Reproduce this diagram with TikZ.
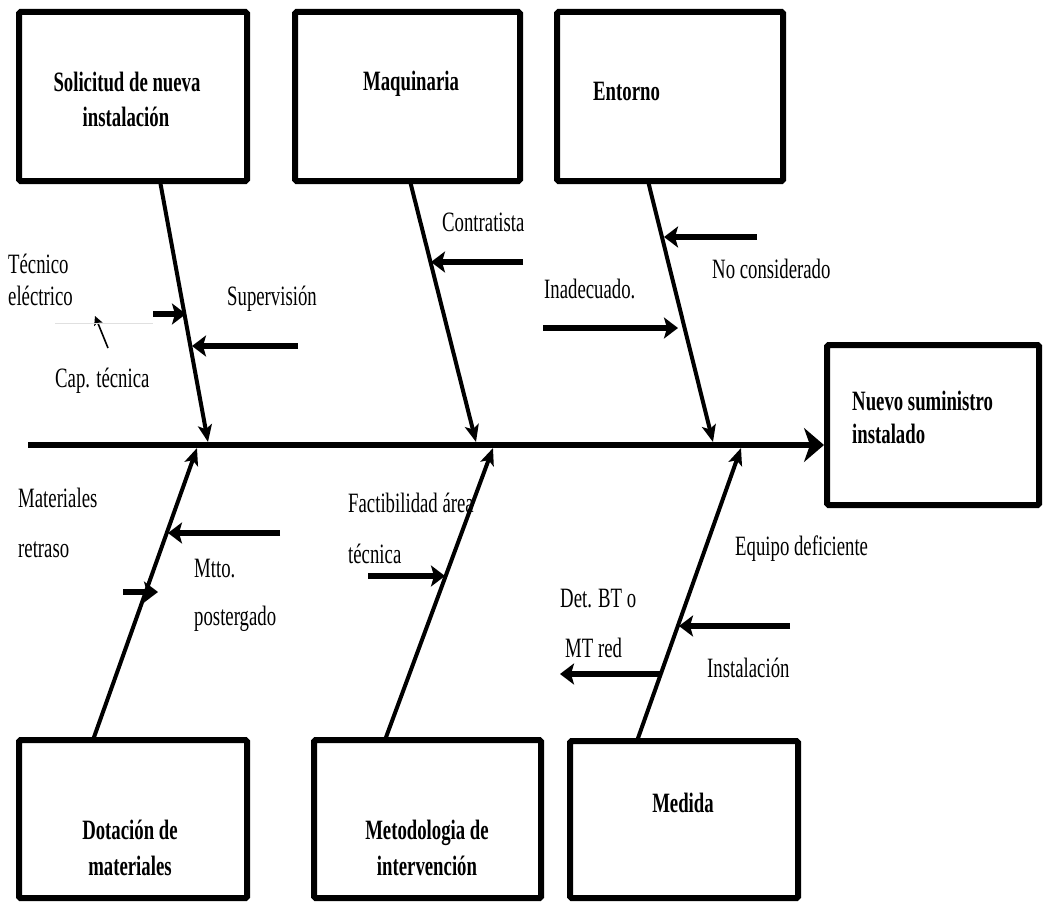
\documentclass[tikz,border=0pt]{standalone}
\usepackage{fontspec}
\setmainfont{Liberation Serif}[FakeStretch=0.67]
\usetikzlibrary{arrows.meta}

\begin{document}
\begin{tikzpicture}[x=1pt,y=-1pt,
  box/.style={draw, line width=6pt, rounded corners=1.5pt, inner sep=0pt},
  spine/.style={line width=6pt, -{Stealth[length=20pt,width=34pt,inset=6pt]}},
  bone/.style={line width=4pt, -{Stealth[length=17pt,width=14pt,inset=4pt]}},
  cause/.style={line width=6pt, -{Stealth[length=14pt,width=21pt,inset=3pt]}},
  thinarrow/.style={line width=1.6pt, -{Stealth[length=9pt,width=9pt,inset=2pt]}},
  lbl/.style={anchor=base west, inner sep=0pt, font=\fontsize{28}{32}\selectfont},
  ttl/.style={anchor=base, inner sep=0pt, font=\fontsize{28}{32}\selectfont\bfseries},
  ttlw/.style={anchor=base west, inner sep=0pt, font=\fontsize{28}{32}\selectfont\bfseries}]

\useasboundingbox (0,0) rectangle (1047,907);

% cause boxes
\node[box, minimum width=228pt, minimum height=169pt] (b1) at (133,96.5) {};
\node[box, minimum width=225pt, minimum height=169pt] (b2) at (407.5,96.5) {};
\node[box, minimum width=226pt, minimum height=169pt] (b3) at (670,96.5) {};
\node[box, minimum width=228pt, minimum height=158pt] (b4) at (133,819) {};
\node[box, minimum width=227pt, minimum height=158pt] (b5) at (427.5,819) {};
\node[box, minimum width=228pt, minimum height=157pt] (b6) at (684,819.5) {};
% effect box
\node[box, minimum width=212pt, minimum height=160pt] (out) at (933,425) {};

% box titles
\node[ttl] (t1a) at (127,92) {Solicitud de nueva};
\node[ttl] (t1b) at (126,126) {instalación};
\node[ttl] (t2) at (411,90) {Maquinaria};
\node[ttlw] (t3) at (593,100) {Entorno};
\node[ttlw] (t7a) at (852,410) {Nuevo suministro};
\node[ttlw] (t7b) at (852,443) {instalado};
\node[ttl] (t4a) at (130,839) {Dotación de};
\node[ttl] (t4b) at (130,875) {materiales};
\node[ttl] (t5a) at (427,839) {Metodologia de};
\node[ttl] (t5b) at (427,875) {intervención};
\node[ttl] (t6) at (683,812) {Medida};

% spine
\coordinate (tail) at (28,445);
\draw[spine] (tail) -- (tail -| out.west);

% bones: box to spine
\coordinate (s1) at (160,181);  \coordinate (j1) at (208,442);
\coordinate (s2) at (410,181);  \coordinate (j2) at (476,442);
\coordinate (s3) at (648,181);  \coordinate (j3) at (713,442);
\coordinate (s4) at (93,740);   \coordinate (j4) at (197,448);
\coordinate (s5) at (385,740);  \coordinate (j5) at (493,448);
\coordinate (s6) at (637,741);  \coordinate (j6) at (741,448);
\draw[bone] (s1) -- (j1);
\draw[bone] (s2) -- (j2);
\draw[bone] (s3) -- (j3);
\draw[bone] (s4) -- (j4);
\draw[bone] (s5) -- (j5);
\draw[bone] (s6) -- (j6);

% sub-cause arrows
\coordinate (a1s) at (153,314); \coordinate (a1t) at (186,314);
\coordinate (a2s) at (298,346); \coordinate (a2t) at (192,346);
\coordinate (a3s) at (523,262); \coordinate (a3t) at (431,262);
\coordinate (a4s) at (757,237); \coordinate (a4t) at (664,237);
\coordinate (a5s) at (543,328); \coordinate (a5t) at (678,328);
\coordinate (a6s) at (280,533); \coordinate (a6t) at (168,533);
\coordinate (a7s) at (123,592); \coordinate (a7t) at (158,592);
\coordinate (a8s) at (368,576); \coordinate (a8t) at (445,576);
\coordinate (a9s) at (790,626); \coordinate (a9t) at (679,626);
\coordinate (a10s) at (661,674); \coordinate (a10t) at (560,674);
\draw[cause] (a1s) -- (a1t);
\draw[cause] (a2s) -- (a2t);
\draw[cause] (a3s) -- (a3t);
\draw[cause] (a4s) -- (a4t);
\draw[cause] (a5s) -- (a5t);
\draw[cause] (a6s) -- (a6t);
\draw[cause] (a7s) -- (a7t);
\draw[cause] (a8s) -- (a8t);
\draw[cause] (a9s) -- (a9t);
\draw[cause] (a10s) -- (a10t);

% thin pointer and faint rule beside it
\coordinate (c1s) at (108,348); \coordinate (c1t) at (95,316);
\draw[thinarrow] (c1s) -- (c1t);
\coordinate (r1) at (55,323); \coordinate (r2) at (153,323);
\draw[black!12, line width=1pt] (r1) -- (r2);

% sub-cause labels
\node[lbl] (l1a) at (8,273) {Técnico};
\node[lbl] (l1b) at (8,305) {eléctrico};
\node[lbl] (l2) at (227,305) {Supervisión};
\node[lbl] (l3) at (55,387) {Cap. técnica};
\node[lbl] (l4) at (442,231) {Contratista};
\node[lbl] (l5) at (544,298) {Inadecuado.};
\node[lbl] (l6) at (712,278) {No considerado};
\node[lbl] (l7a) at (18,507) {Materiales};
\node[lbl] (l7b) at (18,557) {retraso};
\node[lbl] (l8a) at (194,577) {Mtto.};
\node[lbl] (l8b) at (194,625) {postergado};
\node[lbl] (l9a) at (348,512) {Factibilidad área};
\node[lbl] (l9b) at (348,563) {técnica};
\node[lbl] (l10) at (735,555) {Equipo deficiente};
\node[lbl] (l11a) at (560,607) {Det. BT o};
\node[lbl] (l11b) at (565,657) {MT red};
\node[lbl] (l12) at (707,677) {Instalación};

\end{tikzpicture}
\end{document}
